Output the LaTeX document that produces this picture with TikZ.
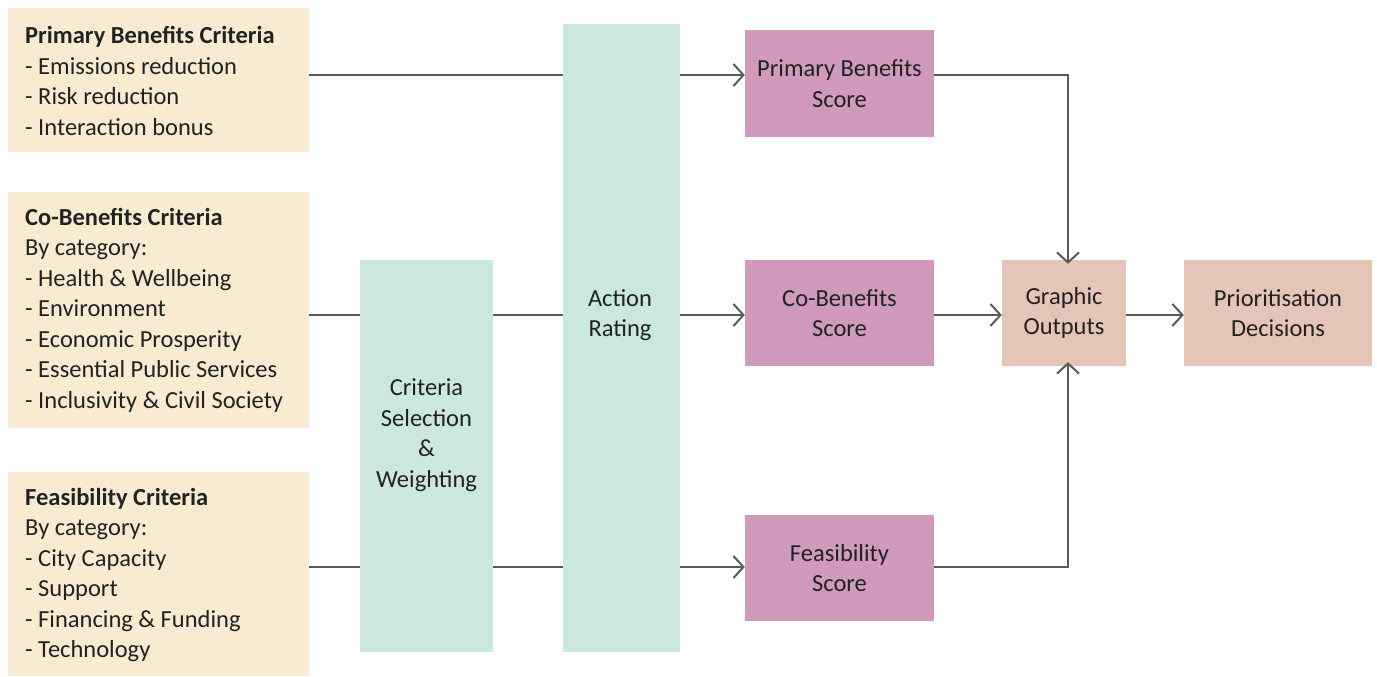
\documentclass[tikz,border=0pt]{standalone}
\usepackage{fontspec}
\setmainfont{Carlito}
\usetikzlibrary{arrows.meta}
\definecolor{beige}{HTML}{F8EBD1}
\definecolor{teal}{HTML}{CBE7DF}
\definecolor{mauve}{HTML}{CF9ABB}
\definecolor{salmon}{HTML}{E5C5B8}
\definecolor{lgray}{HTML}{5A5A5A}
\definecolor{txt}{HTML}{222222}
\tikzset{
  box/.style={inner sep=0pt, text=txt, align=center, font=\fontsize{24.5}{30.5}\selectfont},
  crit/.style={box, fill=beige, minimum width=301pt},
  crittext/.style={box, align=left, anchor=west},
  tealbox/.style={box, fill=teal},
  scorebox/.style={box, fill=mauve, minimum width=189pt},
  outbox/.style={box, fill=salmon, minimum height=106pt},
  conn/.style={draw=lgray, line width=2pt},
  arr/.style={conn, -{Straight Barb[length=10pt, width=22pt, line width=2pt]}},
}
\begin{document}
\begin{tikzpicture}[x=1pt, y=-1pt]
\useasboundingbox (0,0) rectangle (1377,677);
\node[crit, minimum height=144pt] (pbc) at (158.5,80) {};
\node[crittext] (pbct) at (25,81) {\textbf{Primary Benefits Criteria}\\- Emissions reduction\\- Risk reduction\\- Interaction bonus};
\node[crit, minimum height=236pt] (cbc) at (158.5,310) {};
\node[crittext] (cbct) at (25,310) {\textbf{Co-Benefits Criteria}\\By category:\\- Health \& Wellbeing\\- Environment\\- Economic Prosperity\\- Essential Public Services\\- Inclusivity \& Civil Society};
\node[crit, minimum height=204pt] (fc) at (158.5,574) {};
\node[crittext] (fct) at (25,575) {\textbf{Feasibility Criteria}\\By category:\\- City Capacity\\- Support\\- Financing \& Funding\\- Technology};
\node[tealbox, minimum width=133pt, minimum height=392pt] (cs) at (426.5,456) {};
\node[box] (cst) at (426.5,435) {Criteria\\Selection\\\&\\Weighting};
\node[tealbox, minimum width=117pt, minimum height=628pt] (ar) at (621.5,338) {};
\node[box] (art) at (620,315) {Action\\Rating};
\node[scorebox, minimum height=107pt] (pbs) at (839.5,83.5) {Primary Benefits\\Score};
\node[scorebox, minimum height=106pt] (cbs) at (839.5,313) {Co-Benefits\\Score};
\node[scorebox, minimum height=106pt] (fs) at (839.5,568) {Feasibility\\Score};
\node[outbox, minimum width=124pt] (go) at (1064,313) {Graphic\\Outputs};
\node[outbox, minimum width=188pt] (pd) at (1278,313) {Prioritisation\\Decisions};
\coordinate (l1) at (0,75);
\coordinate (l2) at (0,315);
\coordinate (l3) at (0,567);
\coordinate (cx) at (1068,0);
% row 1
\draw[conn] (pbc.east |- l1) -- (ar.west |- l1);
\draw[arr] (ar.east |- l1) -- (pbs.west |- l1);
% row 2
\draw[conn] (cbc.east |- l2) -- (cs.west |- l2);
\draw[conn] (cs.east |- l2) -- (ar.west |- l2);
\draw[arr] (ar.east |- l2) -- (cbs.west |- l2);
% row 3
\draw[conn] (fc.east |- l3) -- (cs.west |- l3);
\draw[conn] (cs.east |- l3) -- (ar.west |- l3);
\draw[arr] (ar.east |- l3) -- (fs.west |- l3);
% to outputs
\draw[arr] (pbs.east |- l1) -| ([yshift=-4pt]go.north -| cx);
\draw[arr] (fs.east |- l3) -| ([yshift=4pt]go.south -| cx);
\draw[arr] (cbs.east |- l2) -- (go.west |- l2);
\draw[arr] (go.east |- l2) -- (pd.west |- l2);
\end{tikzpicture}
\end{document}
